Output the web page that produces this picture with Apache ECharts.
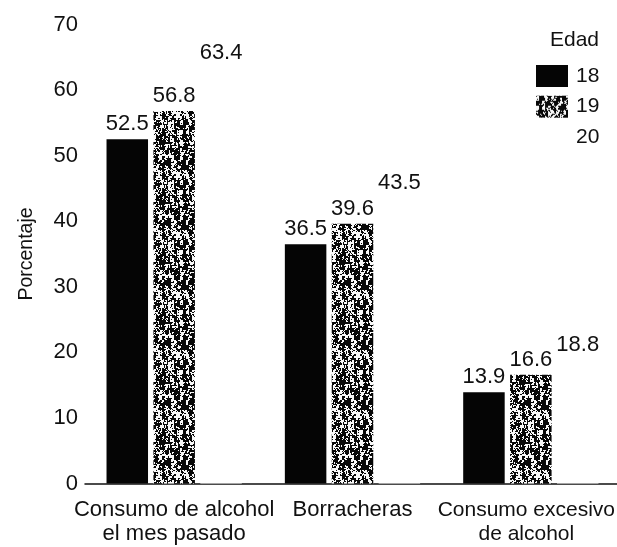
<!DOCTYPE html>
<html>
<head>
<meta charset="utf-8">
<script src="https://cdn.jsdelivr.net/npm/echarts@6/dist/echarts.min.js"></script>
<style>
  html, body { margin: 0; padding: 0; background: #fff; }
  #chart { width: 617px; height: 547px; }
</style>
</head>
<body>
<div id="chart"></div>
<script>
// Alcohol use by age group (percent)
const categories = ['Consumo de alcohol\nel mes pasado', 'Borracheras', 'Consumo excesivo\nde alcohol'];
const ages = ['18', '19', '20'];
const edad18 = [52.5, 36.5, 13.9];
const edad19 = [56.8, 39.6, 16.6];
const edad20 = [63.4, 43.5, 18.8];
const yMin = 0, yMax = 70, yStep = 10;

const FONT = 'Liberation Sans, Arial, Helvetica, sans-serif';
const INK = '#111';

// Speckled halftone fill used for the 19-year-old bars
function speckle() {
  const size = 60;
  const c = document.createElement('canvas');
  c.width = size; c.height = size;
  const ctx = c.getContext('2d');
  const img = ctx.createImageData(size, size);
  let s = 2024;
  const next = () => { s = (s * 1103515245 + 12345) & 0x7fffffff; return s / 0x7fffffff; };
  const n = size * size;
  const fine = [], mid = [], big = [];
  for (let i = 0; i < n; i++) { fine.push(next()); mid.push(next()); big.push(next()); }
  for (let y = 0; y < size; y++) {
    for (let x = 0; x < size; x++) {
      const f = fine[y * size + x];
      const m = mid[Math.floor(y / 2) * size + Math.floor(x / 2)];
      const b = big[Math.floor(y / 5) * size + Math.floor(x / 3)];
      const v = 0.3 * f + 0.35 * m + 0.35 * b;
      const dark = v < 0.55;
      const k = (y * size + x) * 4;
      const g = dark ? 8 : 248;
      img.data[k] = g; img.data[k + 1] = g; img.data[k + 2] = g; img.data[k + 3] = 255;
    }
  }
  ctx.putImageData(img, 0, 0);
  return { image: c, repeat: 'repeat' };
}

const labelStyle = {
  show: true,
  position: 'top',
  distance: 4,
  color: INK,
  fontSize: 22,
  fontFamily: FONT,
  formatter: p => p.value.toFixed(1)
};

// the last category label is set a little tighter so it stays inside the canvas
const categoryData = categories.map((c, i) =>
  i === categories.length - 1
    ? { value: c, textStyle: { fontSize: 21, padding: [0, 9, 0, 0] } }
    : c
);

const chart = echarts.init(document.getElementById('chart'), null, { renderer: 'canvas' });
chart.setOption({
  animation: false,
  backgroundColor: '#fff',
  textStyle: { fontFamily: FONT, color: INK },
  grid: { left: 85, right: -3, top: 24.5, bottom: 63.5, containLabel: false, outerBoundsMode: 'none' },
  graphic: [{
    type: 'text',
    left: 550,
    top: 30,
    style: { text: 'Edad', font: '21px ' + FONT, fill: INK }
  }],
  legend: {
    data: ages,
    orient: 'vertical',
    left: 536,
    top: 65,
    padding: 0,
    itemWidth: 32,
    itemHeight: 22,
    itemGap: 8.7,
    icon: 'rect',
    textStyle: { fontSize: 21, color: INK, fontFamily: FONT, padding: [0, 0, 0, 3] },
    selectedMode: false
  },
  xAxis: {
    type: 'category',
    data: categoryData,
    axisLine: { show: true, lineStyle: { color: INK, width: 1.5 } },
    axisTick: { show: false },
    axisLabel: { color: INK, fontSize: 22, lineHeight: 23.5, margin: 15, interval: 0, fontFamily: FONT },
    splitLine: { show: false }
  },
  yAxis: {
    type: 'value',
    min: yMin,
    max: yMax,
    interval: yStep,
    name: 'Porcentaje',
    nameLocation: 'middle',
    nameGap: 48,
    nameTextStyle: { fontSize: 19.5, color: INK, fontFamily: FONT },
    axisLine: { show: false },
    axisTick: { show: false },
    splitLine: { show: false },
    axisLabel: { color: INK, fontSize: 22, margin: 7, fontFamily: FONT }
  },
  series: [
    {
      name: '18', type: 'bar', data: edad18,
      barWidth: 41.5, barGap: '13%',
      itemStyle: { color: '#050505' },
      label: labelStyle
    },
    {
      name: '19', type: 'bar', data: edad19,
      barWidth: 41.5, barGap: '13%',
      itemStyle: { color: speckle() },
      label: labelStyle
    },
    {
      name: '20', type: 'bar', data: edad20,
      barWidth: 41.5, barGap: '13%',
      itemStyle: { color: '#ffffff' },
      label: labelStyle
    }
  ]
});
</script>
</body>
</html>
